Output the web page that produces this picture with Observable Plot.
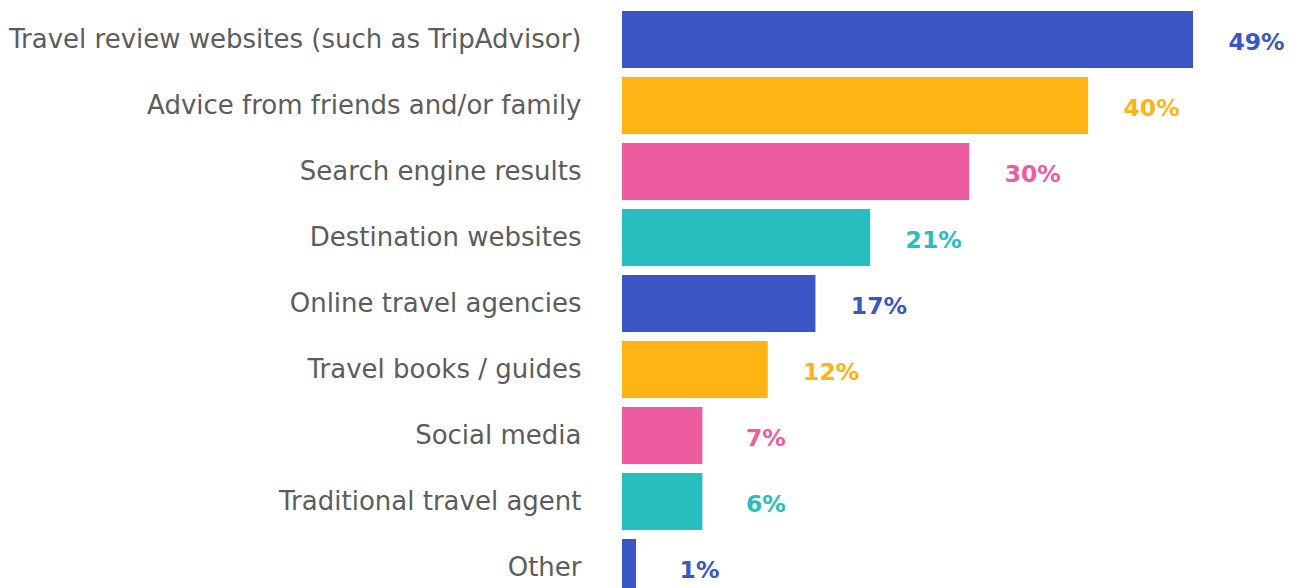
<!DOCTYPE html>
<html>
<head>
<meta charset="utf-8">
<script src="https://cdn.jsdelivr.net/npm/d3@7"></script>
<script src="https://cdn.jsdelivr.net/npm/@observablehq/plot@0.6"></script>
<style>
  html, body { margin: 0; padding: 0; background: #fff; overflow: hidden; }
  #chart svg { display: block; }
</style>
</head>
<body>
<div id="chart"></div>
<script>
const categories = [
  "Travel review websites (such as TripAdvisor)",
  "Advice from friends and/or family",
  "Search engine results",
  "Destination websites",
  "Online travel agencies",
  "Travel books / guides",
  "Social media",
  "Traditional travel agent",
  "Other"
];
const values = [49, 40, 29.8, 21.3, 16.6, 12.5, 6.9, 6.9, 1.2];
const valueLabels = ["49%", "40%", "30%", "21%", "17%", "12%", "7%", "6%", "1%"];
const palette = ["#3b56c5", "#feb414", "#ec5c9f", "#28bdbe"];

const data = categories.map((c, i) => ({category: c, value: values[i], label: valueLabels[i]}));

const chart = Plot.plot({
  width: 1296,
  height: 605,
  marginLeft: 622,
  marginRight: 103,
  marginTop: 2,
  marginBottom: 0,
  style: {fontFamily: "'DejaVu Sans', sans-serif", fontSize: "26px", color: "#5c5c5c", background: "#fff"},
  x: {domain: [0, 49], axis: null},
  y: {domain: categories, paddingInner: 0.1364, paddingOuter: 0.1364, round: false, label: null},
  color: {type: "ordinal", domain: categories, range: palette},
  marks: [
    Plot.axisY({tickSize: 0, tickPadding: 41, fontSize: 26, label: null}),
    Plot.barX(data, {x: "value", y: "category", fill: "category"}),
    Plot.text(data, {
      x: "value", y: "category", text: "label", fill: "category",
      dx: 63, dy: 2, textAnchor: "middle",
      fontFamily: "'DejaVu Sans', sans-serif", fontWeight: "bold", fontSize: 23.5,
      letterSpacing: "1px"
    })
  ]
});
document.getElementById("chart").appendChild(chart);
</script>
</body>
</html>
